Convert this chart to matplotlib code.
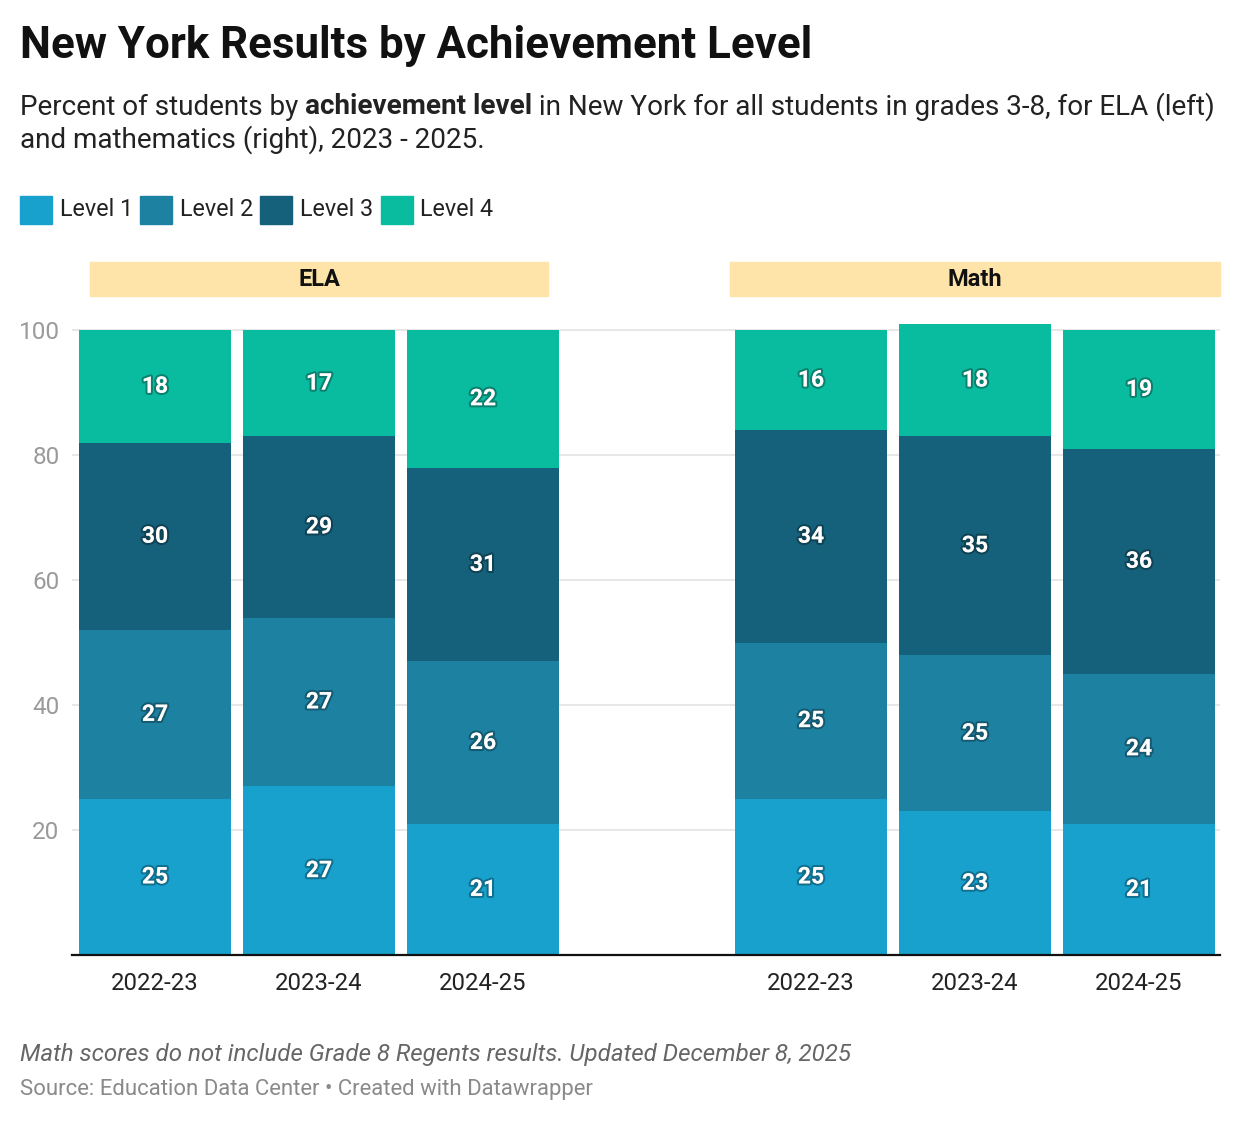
import matplotlib
matplotlib.use('Agg')
import matplotlib.pyplot as plt
import matplotlib.patheffects as pe
from matplotlib.patches import Rectangle

plt.rcParams['font.family'] = ['Roboto', 'DejaVu Sans']

# Data (percent of students, grades 3-8)
years = ['2022-23', '2023-24', '2024-25']
subjects = ['ELA', 'Math']
levels = ['Level 1', 'Level 2', 'Level 3', 'Level 4']
level_colors = ['#18a1cd', '#1d81a2', '#15607a', '#09bb9f']

ela_l1 = [25, 27, 21]
ela_l2 = [27, 27, 26]
ela_l3 = [30, 29, 31]
ela_l4 = [18, 17, 22]

math_l1 = [25, 23, 21]
math_l2 = [25, 25, 24]
math_l3 = [34, 35, 36]
math_l4 = [16, 18, 19]

W, H = 1240, 1124
fig = plt.figure(figsize=(W / 100, H / 100), dpi=100)


def fx(px):
    return px / W


def fy(py):
    return 1 - py / H


# main axes: one axes holding both panels, gap of one slot between them
ax = fig.add_axes([fx(72), fy(955), (1220 - 72) / W, 637.5 / H])
positions = [[0, 1, 2], [4, 5, 6]]
ela_levels = [ela_l1, ela_l2, ela_l3, ela_l4]
math_levels = [math_l1, math_l2, math_l3, math_l4]

for pos, series in zip(positions, [ela_levels, math_levels]):
    bottom = [0, 0, 0]
    for name, vals, col in zip(levels, series, level_colors):
        bars = ax.bar(pos, vals, bottom=bottom, width=0.927, color=col,
                      linewidth=0, zorder=2)
        labels = ax.bar_label(bars, label_type='center', color='white',
                              fontsize=16.5, fontweight='bold')
        for t in labels:
            t.set_path_effects([pe.withStroke(linewidth=3, foreground=(0, 0, 0, 0.3))])
        bottom = [b + v for b, v in zip(bottom, vals)]

ax.set_xlim(-0.506, 6.494)
ax.set_ylim(0, 102)
ax.set_yticks([20, 40, 60, 80, 100])
ax.set_xticks(positions[0] + positions[1])
ax.set_xticklabels(years + years)
ax.tick_params(axis='y', length=0, pad=9, labelsize=17.5, labelcolor='#9a9a9a')
ax.tick_params(axis='x', length=0, pad=12, labelsize=17.2, labelcolor='#222222')
ax.grid(axis='y', color='#e3e3e3', linewidth=1.2, zorder=0)
for s in ['top', 'right', 'left']:
    ax.spines[s].set_visible(False)
ax.spines['bottom'].set_color('#111111')
ax.spines['bottom'].set_linewidth(1.6)
ax.spines['bottom'].set_zorder(3)

# panel headers
for name, (x0, x1) in zip(subjects, [(90, 548), (730, 1220)]):
    fig.patches.append(Rectangle((fx(x0), fy(296)), (x1 - x0) / W, 34 / H,
                                 transform=fig.transFigure, color='#fee4a9',
                                 zorder=0))
    fig.text(fx((x0 + x1) / 2), fy(280), name, ha='center', va='center',
             fontsize=17, fontweight='bold', color='#111111')

# title and subtitle
fig.text(fx(20), fy(46), 'New York Results by Achievement Level', ha='left',
         va='center', fontsize=31.6, fontweight='bold', color='#111111')

renderer = fig.canvas.get_renderer()
x = fx(20)
parts = [('Percent of students by ', 'normal'), ('achievement level', 'bold'),
         (' in New York for all students in grades 3-8, for ELA (left)', 'normal')]
for txt, wt in parts:
    t = fig.text(x, fy(107), txt, ha='left', va='center', fontsize=20.1,
                 fontweight=wt, color='#222222')
    bb = t.get_window_extent(renderer)
    x += bb.width / W
fig.text(fx(20), fy(140), 'and mathematics (right), 2023 - 2025.', ha='left',
         va='center', fontsize=20.1, color='#222222')

# legend
lx = 20
for name, col in zip(levels, level_colors):
    fig.patches.append(Rectangle((fx(lx), fy(224)), 32 / W, 28 / H,
                                 transform=fig.transFigure, color=col))
    t = fig.text(fx(lx + 40), fy(210), name, ha='left', va='center',
                 fontsize=16.8, color='#222222')
    lx += 40 + t.get_window_extent(renderer).width + 7

# footer
fig.text(fx(20), fy(1054), 'Math scores do not include Grade 8 Regents results. Updated December 8, 2025',
         ha='left', va='center', fontsize=17.4, style='italic', color='#666666')
fig.text(fx(20), fy(1090), 'Source: Education Data Center \u2022 Created with Datawrapper',
         ha='left', va='center', fontsize=15.9, color='#8a8a8a')

fig.savefig('out.png', dpi=100)
